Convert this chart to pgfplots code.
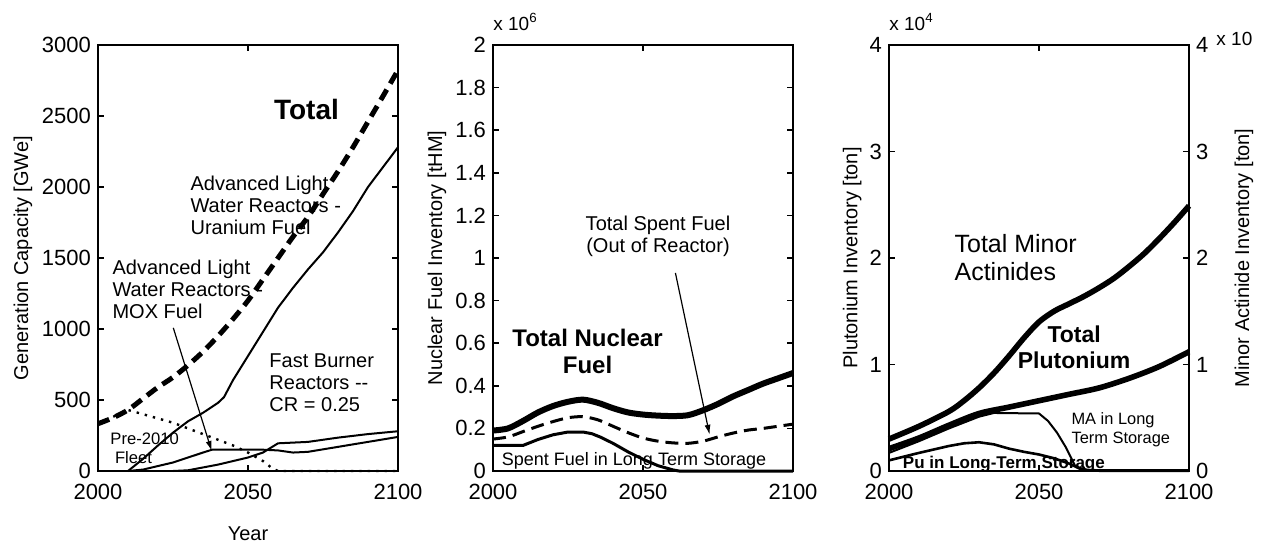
\documentclass[border=0pt]{standalone}
\usepackage{pgfplots}
\pgfplotsset{compat=1.18}
\usepackage{fontspec}
\setmainfont{Liberation Sans}
\usetikzlibrary{arrows.meta}
\pgfplotsset{
  panel/.style={
    scale only axis, width=150pt, height=213pt,
    anchor=south west,
    xmin=2000, xmax=2100, xtick={2000,2050,2100},
    axis line style={line width=0.9pt},
    tick style={line width=0.8pt, black},
    major tick length=3pt,
    tick align=inside,
    ticklabel style={font=\fontsize{11}{13}\selectfont},
    xticklabel style={yshift=-3pt},
    label style={font=\fontsize{10}{12}\selectfont},
    xlabel style={yshift=-6.5pt},
    /pgf/number format/assume math mode=true,
    /pgf/number format/1000 sep={},
    scaled ticks=false,
    clip=false,
  },
}
\begin{document}
\begin{tikzpicture}
% ---------------- Panel 1 ----------------
\begin{axis}[panel, at={(49pt,38pt)},
  ymin=0, ymax=3000, ytick={0,500,1000,1500,2000,2500,3000},
  xlabel={Year}, ylabel={Generation Capacity [GWe]},
  ylabel style={at={(axis description cs:-0.25,0.5)},anchor=center}]
% Total
\addplot[black, line width=2.5pt, dash pattern=on 6pt off 3.5pt, smooth] coordinates {
(2000,333)(2005,375)(2010,430)(2015,510)(2020,590)(2025,660)(2030,745)(2035,840)
(2040,950)(2045,1070)(2050,1200)(2055,1350)(2060,1500)(2065,1650)(2070,1790)
(2075,1950)(2080,2110)(2085,2280)(2090,2460)(2095,2640)(2100,2823)};
% ALWR uranium
\addplot[black, line width=1pt] coordinates {
(2010,0)(2015,85)(2020,180)(2025,270)(2030,350)(2035,410)(2040,480)(2042,520)
(2045,640)(2050,810)(2055,980)(2060,1150)(2065,1290)(2070,1420)(2075,1540)
(2080,1680)(2085,1830)(2090,2000)(2095,2140)(2100,2280)};
% Pre-2010 fleet
\addplot[black, line width=1.2pt, dash pattern=on 1.2pt off 3pt] coordinates {
(2000,333)(2010,430)(2015,400)(2020,370)(2025,340)(2030,300)(2035,260)(2040,220)
(2045,180)(2050,130)(2055,70)(2058,20)(2060,0)(2100,0)};
% ALWR MOX
\addplot[black, line width=1pt] coordinates {
(2010,0)(2015,10)(2020,35)(2025,60)(2030,95)(2035,130)(2038,150)(2045,150)
(2055,150)(2060,145)(2065,130)(2070,135)(2080,170)(2090,205)(2100,240)};
% Fast burner
\addplot[black, line width=1pt] coordinates {
(2025,0)(2030,5)(2035,25)(2040,45)(2045,70)(2050,95)(2055,130)(2060,195)
(2065,200)(2070,205)(2080,235)(2090,260)(2100,280)};
\node[font=\fontsize{14}{16}\selectfont\bfseries] at (axis cs:2069.5,2543) {Total};
\node[font=\fontsize{10}{11}\selectfont, align=left, anchor=west] at (axis cs:2028.5,1870)
  {Advanced Light\\Water Reactors -\\Uranium Fuel};
\node[font=\fontsize{10}{11}\selectfont, align=left, anchor=west] at (axis cs:2002.5,1277)
  {Advanced Light\\Water Reactors -\\MOX Fuel};
\node[font=\fontsize{10}{11}\selectfont, align=left, anchor=west] at (axis cs:2054.8,621)
  {Fast Burner\\Reactors -{}-\\CR = 0.25};
\node[font=\fontsize{8.3}{9.5}\selectfont, align=left, anchor=west] at (axis cs:2001.8,159)
  {Pre-2010\\\ Fleet};
\draw[line width=0.6pt, -{Latex[length=5pt,width=3pt]}] (axis cs:2025.1,1008) -- (axis cs:2037.9,141);
\end{axis}
% ---------------- Panel 2 ----------------
\begin{axis}[panel, at={(246.5pt,38pt)},
  ymin=0, ymax=2, ytick={0,0.2,0.4,0.6,0.8,1,1.2,1.4,1.6,1.8,2},
  ylabel={Nuclear Fuel Inventory [tHM]},
  ylabel style={at={(axis description cs:-0.187,0.5)},anchor=center}]
\addplot[black, line width=3pt, smooth] coordinates {
(2000,0.19)(2005,0.20)(2010,0.235)(2015,0.275)(2020,0.305)(2025,0.325)(2030,0.335)
(2035,0.32)(2040,0.295)(2045,0.275)(2050,0.265)(2055,0.26)(2060,0.258)(2065,0.262)
(2070,0.285)(2075,0.315)(2080,0.35)(2085,0.38)(2090,0.41)(2095,0.435)(2100,0.46)};
\addplot[black, line width=1.5pt, dash pattern=on 6.5pt off 3.5pt, smooth] coordinates {
(2000,0.15)(2005,0.16)(2010,0.185)(2015,0.21)(2020,0.232)(2025,0.25)(2030,0.255)
(2035,0.24)(2040,0.21)(2045,0.18)(2050,0.155)(2055,0.14)(2060,0.132)(2065,0.13)
(2070,0.14)(2075,0.16)(2080,0.178)(2085,0.192)(2090,0.2)(2095,0.21)(2100,0.22)};
\addplot[black, line width=1.5pt] coordinates {
(2000,0.12)(2010,0.12)(2015,0.148)(2020,0.17)(2025,0.183)(2030,0.183)(2033,0.175)
(2036,0.158)(2040,0.13)(2045,0.09)(2050,0.055)(2055,0.025)(2060,0.005)(2062,0)(2100,0)};
\node[anchor=base west, font=\fontsize{9.5}{11}\selectfont, inner sep=0pt, yshift=7.5pt] at (rel axis cs:0,1)
  {x 10\textsuperscript{6}};
\node[font=\fontsize{12}{13.5}\selectfont\bfseries, align=center] at (axis cs:2031.5,0.56)
  {Total Nuclear\\Fuel};
\node[font=\fontsize{10}{11}\selectfont, align=center] at (axis cs:2055,1.10)
  {Total Spent Fuel\\(Out of Reactor)};
\node[font=\fontsize{9}{10}\selectfont] at (axis cs:2047,0.047) {Spent Fuel in Long Term Storage};
\draw[line width=0.6pt, -{Latex[length=5pt,width=3pt]}] (axis cs:2060.8,0.93) -- (axis cs:2072.2,0.17);
\end{axis}
% ---------------- Panel 3 ----------------
\begin{axis}[panel, at={(444.5pt,38pt)},
  ymin=0, ymax=4, ytick={0,1,2,3,4}, ytick pos=left,
  ylabel={Plutonium Inventory [ton]},
  ylabel style={at={(axis description cs:-0.123,0.5)},anchor=center}]
\addplot[black, line width=2.8pt, smooth] coordinates {
(2000,0.30)(2010,0.42)(2020,0.56)(2025,0.66)(2030,0.78)(2035,0.92)(2040,1.08)
(2045,1.25)(2050,1.40)(2055,1.50)(2060,1.57)(2065,1.64)(2070,1.72)(2075,1.81)
(2080,1.92)(2085,2.04)(2090,2.18)(2095,2.33)(2100,2.49)};
\addplot[black, line width=2.8pt, smooth] coordinates {
(2000,0.21)(2010,0.31)(2020,0.43)(2030,0.54)(2040,0.60)(2050,0.66)(2060,0.72)
(2070,0.78)(2080,0.87)(2090,0.98)(2100,1.12)};
\addplot[black, line width=1pt] coordinates {
(2000,0.17)(2010,0.28)(2020,0.40)(2030,0.51)(2035,0.545)(2050,0.54)(2053,0.47)
(2056,0.36)(2059,0.22)(2062,0.05)(2064,0.01)(2070,0.0)(2100,0.0)};
\addplot[black, line width=1.3pt] coordinates {
(2000,0.10)(2010,0.17)(2020,0.235)(2025,0.26)(2030,0.27)(2035,0.25)(2040,0.21)
(2045,0.18)(2050,0.155)(2055,0.12)(2060,0.07)(2063,0.03)(2066,0.01)(2070,0.005)(2100,0.005)};
\node[anchor=base west, font=\fontsize{9.5}{11}\selectfont, inner sep=0pt, yshift=7.5pt] at (rel axis cs:0,1)
  {x 10\textsuperscript{4}};
\node[font=\fontsize{12.5}{14}\selectfont, align=left, anchor=west] at (axis cs:2019.5,2.0)
  {Total Minor\\Actinides};
\node[font=\fontsize{11.5}{13}\selectfont\bfseries, align=center] at (axis cs:2061.7,1.16)
  {Total\\Plutonium};
\node[font=\fontsize{8.2}{9.5}\selectfont, align=left, anchor=west] at (axis cs:2058.5,0.39)
  {MA in Long\\Term Storage};
\node[font=\fontsize{8.5}{10}\selectfont\bfseries, anchor=west] at (axis cs:2002.3,0.063)
  {Pu in Long-Term Storage};
\end{axis}
\begin{axis}[panel, at={(444.5pt,38pt)},
  ymin=0, ymax=4, ytick={0,1,2,3,4},
  axis y line*=right, axis x line=none,
  ylabel={Minor Actinide Inventory [ton]},
  ylabel style={at={(axis description cs:1.183,0.5)},anchor=center}]
\addplot[draw=none] coordinates {(2000,0)(2100,0)};
\node[anchor=base west, font=\fontsize{9.5}{11}\selectfont, inner sep=0pt, xshift=13.5pt, yshift=0pt] at (rel axis cs:1,1)
  {x 10};
\end{axis}
\pgfresetboundingbox
\useasboundingbox (0,0) rectangle (630.5pt,273.5pt);
\end{tikzpicture}
\end{document}
